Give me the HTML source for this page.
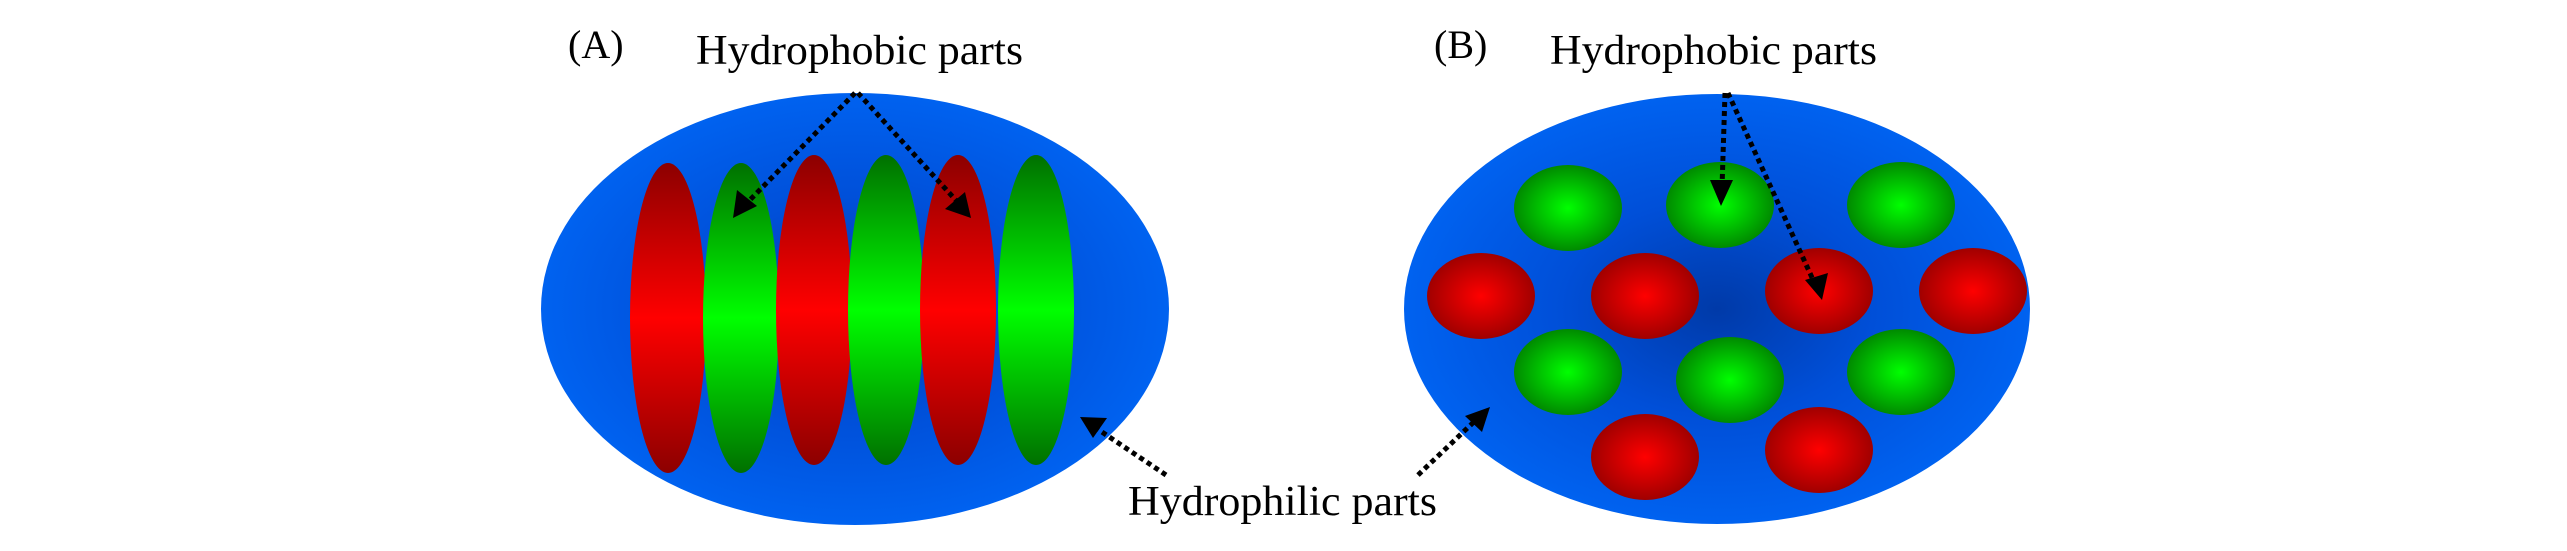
<!DOCTYPE html>
<html><head><style>html,body{margin:0;padding:0;background:#fff;}svg{display:block}</style></head>
<body>
<svg width="2567" height="551" viewBox="0 0 2567 551" xmlns="http://www.w3.org/2000/svg">
<defs>
<radialGradient id="bl" cx="50%" cy="50%" r="50%"><stop offset="0" stop-color="#003aa8"/><stop offset="0.5" stop-color="#004fd8"/><stop offset="1" stop-color="#0062f0"/></radialGradient>
<radialGradient id="rd" cx="50%" cy="50%" r="50%"><stop offset="0" stop-color="#ff0000"/><stop offset="1" stop-color="#a00000"/></radialGradient>
<radialGradient id="gr" cx="50%" cy="50%" r="50%"><stop offset="0" stop-color="#00ff00"/><stop offset="1" stop-color="#008a00"/></radialGradient>
<linearGradient id="rl" x1="0" y1="0" x2="0" y2="1"><stop offset="0" stop-color="#8c0000"/><stop offset="0.5" stop-color="#ff0000"/><stop offset="1" stop-color="#8c0000"/></linearGradient>
<linearGradient id="gl" x1="0" y1="0" x2="0" y2="1"><stop offset="0" stop-color="#007000"/><stop offset="0.5" stop-color="#00ff00"/><stop offset="1" stop-color="#007000"/></linearGradient>
</defs>
<g font-family="Liberation Serif, serif" fill="#000">
<ellipse cx="855" cy="309" rx="314" ry="216" fill="url(#bl)"/>
<ellipse cx="668" cy="318" rx="38" ry="155" fill="url(#rl)"/>
<ellipse cx="741" cy="318" rx="38" ry="155" fill="url(#gl)"/>
<ellipse cx="814" cy="310" rx="38" ry="155" fill="url(#rl)"/>
<ellipse cx="886" cy="310" rx="38" ry="155" fill="url(#gl)"/>
<ellipse cx="958" cy="310" rx="38" ry="155" fill="url(#rl)"/>
<ellipse cx="1036" cy="310" rx="38" ry="155" fill="url(#gl)"/>

<ellipse cx="1717" cy="309" rx="313" ry="215" fill="url(#bl)"/>
<ellipse cx="1568" cy="208" rx="54" ry="43" fill="url(#gr)"/>
<ellipse cx="1720" cy="205" rx="54" ry="43" fill="url(#gr)"/>
<ellipse cx="1901" cy="205" rx="54" ry="43" fill="url(#gr)"/>
<ellipse cx="1481" cy="296" rx="54" ry="43" fill="url(#rd)"/>
<ellipse cx="1645" cy="296" rx="54" ry="43" fill="url(#rd)"/>
<ellipse cx="1819" cy="291" rx="54" ry="43" fill="url(#rd)"/>
<ellipse cx="1973" cy="291" rx="54" ry="43" fill="url(#rd)"/>
<ellipse cx="1568" cy="372" rx="54" ry="43" fill="url(#gr)"/>
<ellipse cx="1730" cy="380" rx="54" ry="43" fill="url(#gr)"/>
<ellipse cx="1901" cy="372" rx="54" ry="43" fill="url(#gr)"/>
<ellipse cx="1645" cy="457" rx="54" ry="43" fill="url(#rd)"/>
<ellipse cx="1819" cy="450" rx="54" ry="43" fill="url(#rd)"/>

<g stroke="#000" stroke-width="5" stroke-dasharray="5,4" fill="none">
<line x1="855" y1="93" x2="742" y2="208"/>
<line x1="858" y1="93" x2="963" y2="208"/>
<line x1="1166" y1="475" x2="1093" y2="426"/>
<line x1="1418" y1="475" x2="1478" y2="418"/>
<line x1="1725" y1="93" x2="1722" y2="188"/>
<line x1="1728" y1="93" x2="1814" y2="282"/>
</g>
<g fill="#000">
<path d="M733,218 L737,190 L757,206 z"/>
<path d="M971,218 L945,209 L965,192 z"/>
<path d="M1080,417 L1107,418 L1093,438 z"/>
<path d="M1490,407 L1482,432 L1465,416 z"/>
<path d="M1721,206 L1710,180 L1733,180 z"/>
<path d="M1822,300 L1805,280 L1828,273 z"/>
</g>

<text x="568" y="58" font-size="40">(A)</text>
<text x="696" y="64" font-size="42" textLength="327" lengthAdjust="spacingAndGlyphs">Hydrophobic parts</text>
<text x="1434" y="58" font-size="40">(B)</text>
<text x="1550" y="64" font-size="42" textLength="327" lengthAdjust="spacingAndGlyphs">Hydrophobic parts</text>
<text x="1128" y="515" font-size="42" textLength="309" lengthAdjust="spacingAndGlyphs">Hydrophilic parts</text>
</g>
</svg>
</body></html>
